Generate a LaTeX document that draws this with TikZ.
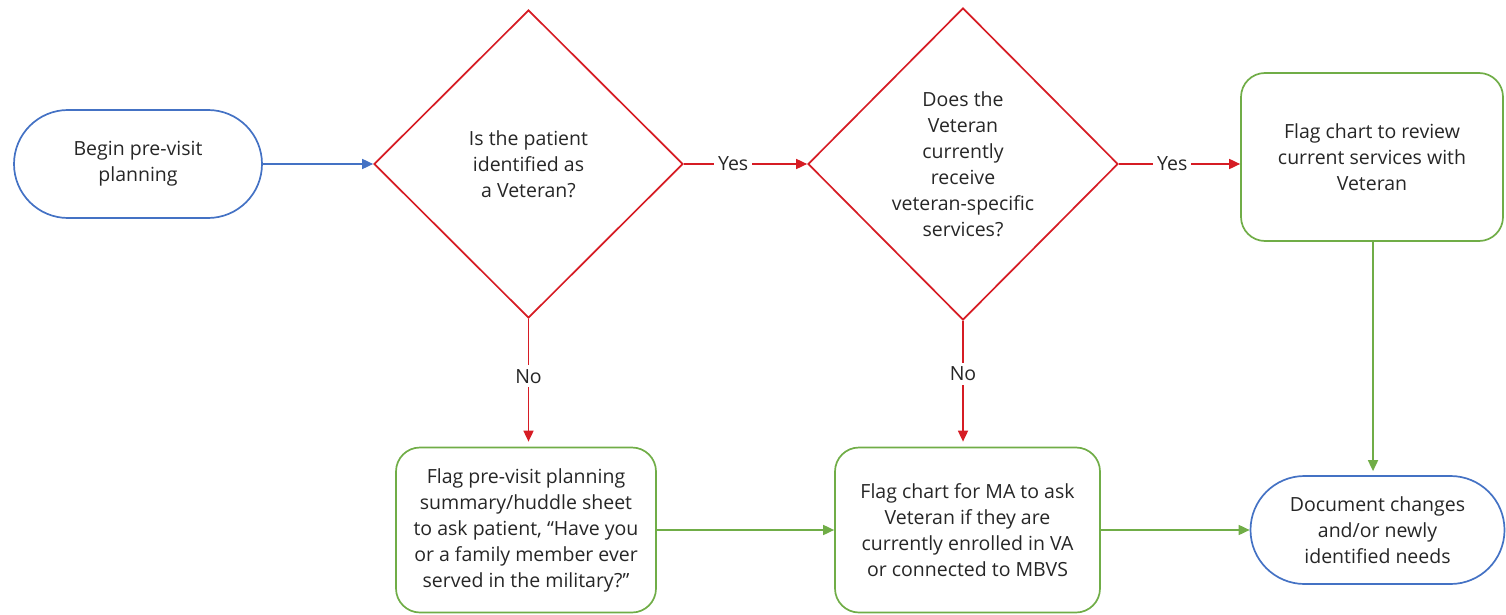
\documentclass[tikz,border=0pt]{standalone}
\usepackage{fontspec}
\setmainfont{Open Sans}
\usetikzlibrary{shapes.geometric,arrows.meta}
\definecolor{flowblue}{RGB}{68,114,196}
\definecolor{flowred}{RGB}{214,28,36}
\definecolor{flowgreen}{RGB}{112,173,71}
\begin{document}
\begin{tikzpicture}[x=1pt,y=-1pt,
  every node/.style={font=\fontsize{19.5}{26}\selectfont, text=black!85, align=center},
  terminal/.style={draw=flowblue, line width=1.7pt, rounded corners=54pt, minimum height=108pt, inner sep=0pt},
  decision/.style={draw=flowred, line width=1.7pt, shape=diamond, inner sep=0pt},
  process/.style={draw=flowgreen, line width=1.7pt, rounded corners=24pt, minimum height=165pt, inner sep=0pt},
  arr/.style={line width=1.7pt, -{Triangle[length=11pt,width=10pt]}},
  blueflow/.style={arr, draw=flowblue, fill=flowblue},
  redflow/.style={arr, draw=flowred, fill=flowred},
  greenflow/.style={arr, draw=flowgreen, fill=flowgreen},
  tag/.style={fill=white, inner sep=4pt}
]
\useasboundingbox (0,0) rectangle (1506,615);

% nodes
\node[terminal, minimum width=248pt] (start) at (138,164) {Begin pre-visit\\planning};
\node[decision, minimum width=309pt, minimum height=308pt] (vet) at (528.5,164)
  {Is the patient\\identified as\\a Veteran?};
\node[decision, minimum width=310pt, minimum height=312pt] (svc) at (963,164)
  {Does the\\Veteran\\currently\\receive\\veteran-specific\\services?};
\node[process, minimum width=262pt, minimum height=168pt] (review) at (1372,157)
  {Flag chart to review\\current services with\\Veteran};
\node[process, minimum width=260pt] (huddle) at (526,530)
  {Flag pre-visit planning\\summary/huddle sheet\\to ask patient, “Have you\\or a family member ever\\served in the military?”};
\node[process, minimum width=265pt] (ask) at (967.5,530)
  {Flag chart for MA to ask\\Veteran if they are\\currently enrolled in VA\\or connected to MBVS};
\node[terminal, minimum width=254pt] (doc) at (1377.5,530)
  {Document changes\\and/or newly\\identified needs};

% connectors
\draw[blueflow] (start.east) -- (vet.west);
\draw[redflow] (vet.east) -- node[tag, pos=0.4] {Yes} (svc.west);
\draw[redflow] (svc.east) -- node[tag, pos=0.44] {Yes} (svc.east -| review.west);
\draw[redflow, shorten >=5pt] (vet.south) -- node[tag, pos=0.45] {No} (vet.south |- huddle.north);
\draw[redflow, shorten >=5pt] (svc.south) -- node[tag, pos=0.42] {No} (svc.south |- ask.north);
\draw[greenflow] (huddle.east) -- (ask.west);
\draw[greenflow] (ask.east) -- (doc.west);
\draw[greenflow, shorten >=4pt] (review.south -| 1373,0) -- (1373,0 |- doc.north);
\end{tikzpicture}
\end{document}
